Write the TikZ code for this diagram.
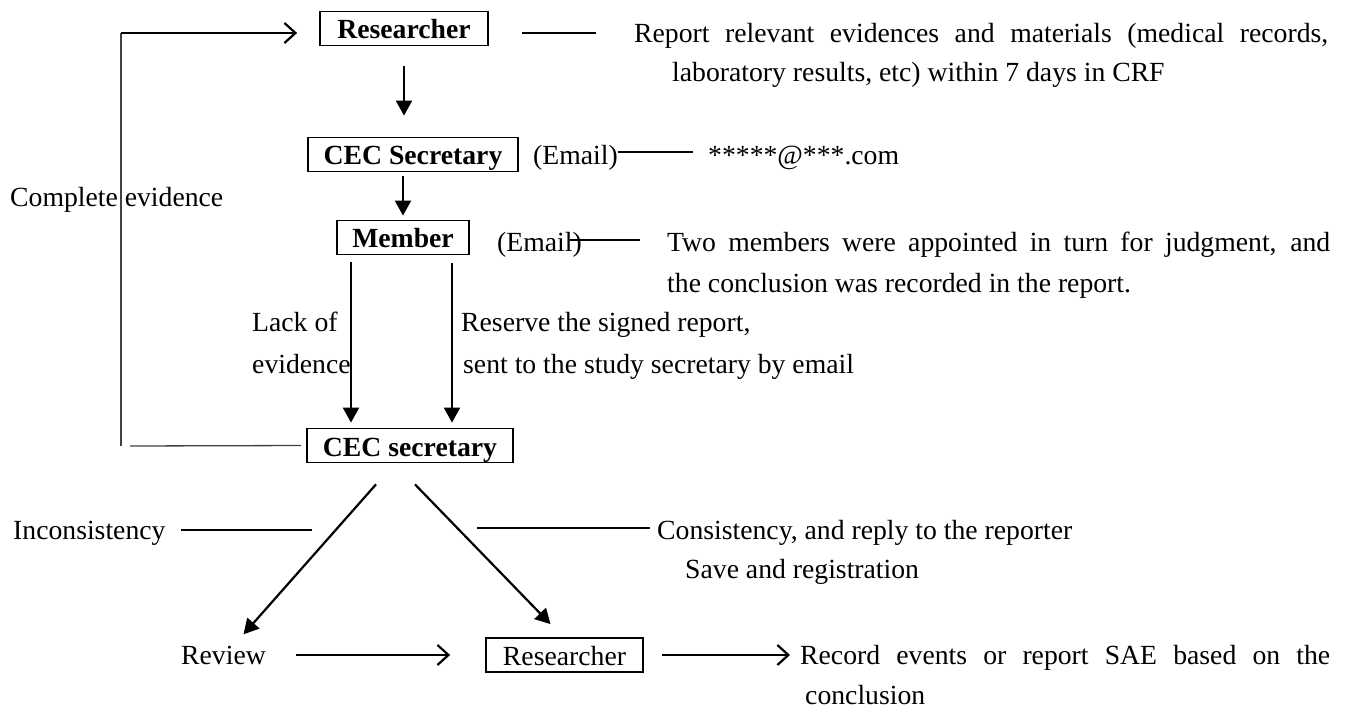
\documentclass[tikz,border=0pt]{standalone}
\usepackage{fontspec}
\setmainfont{Liberation Serif}
\usetikzlibrary{arrows.meta,calc}
\begin{document}
\begin{tikzpicture}[x=1pt,y=-1pt,
  every node/.style={font=\fontsize{27.7}{40}\selectfont, inner sep=0pt},
  box/.style={draw, line width=1.8pt, minimum height=34pt, text height=25pt, text depth=4pt},
  bold/.style={font=\fontsize{27.7}{40}\selectfont\bfseries},
  lbl/.style={anchor=west, text height=19pt, text depth=0pt},
  arr/.style={line width=2.2pt, -{Triangle[length=15pt,width=16pt]}},
  oarr/.style={line width=2.2pt, -{Straight Barb[length=11pt,width=20pt,line width=2.2pt]}},
  tie/.style={line width=1.5pt},
  loopline/.style={line width=1.3pt, black!75}]
\useasboundingbox (0,0) rectangle (1349,711);

% boxed steps
\node[box, bold, minimum width=168pt] (R1) at (404,28.5) {Researcher};
\node[box, bold, minimum width=210pt] (S1) at (413,154.5) {CEC Secretary};
\node[box, bold, minimum width=132pt] (M) at (403,237.5) {Member};
\node[box, bold, minimum width=206pt] (S2) at (410,445.5) {CEC secretary};
\node[box, minimum width=157pt] (R2) at (564.5,655) {Researcher};

% descriptions
\node[lbl] (rep1) at (634,33) {\makebox[694pt][s]{Report relevant evidences and materials (medical records,}};
\node[lbl] (rep2) at (672,72) {laboratory results, etc) within 7 days in CRF};
\node[lbl] (em1) at (533,155) {(Email)};
\node[lbl] (mail) at (708,155) {*****@***.com};
\node[lbl] (em2) at (497,242) {(Email)};
\node[lbl] (two1) at (667,242) {\makebox[663pt][s]{Two members were appointed in turn for judgment, and}};
\node[lbl] (two2) at (667,283) {the conclusion was recorded in the report.};
\node[lbl] (comp) at (10,197) {Complete evidence};
\node[lbl] (lack1) at (252,322) {Lack of};
\node[lbl] (lack2) at (252,364) {evidence};
\node[lbl] (res1) at (461,322) {Reserve the signed report,};
\node[lbl] (res2) at (463,364) {sent to the study secretary by email};
\node[lbl] (inc) at (13,530) {Inconsistency};
\node[lbl] (con1) at (657,530) {Consistency, and reply to the reporter};
\node[lbl] (con2) at (685,569) {Save and registration};
\node[lbl] (rev) at (181,655) {Review};
\node[lbl] (rec1) at (800,655) {\makebox[530pt][s]{Record events or report SAE based on the}};
\node[lbl] (rec2) at (805,695) {conclusion};

% leader lines to the descriptions
\draw[tie] ($(rep1.west)+(-112,0)$) -- ($(rep1.west)+(-38,0)$);
\draw[tie] ($(em1.east)+(0,-3)$) -- ($(mail.west)+(-15,-3)$);
\draw[tie] ($(em2.east)+(-12,-2)$) -- ($(two1.west)+(-27,-2)$);
\draw[tie] ($(inc.east)+(15,0)$) -- ($(inc.east)+(146,0)$);
\draw[tie] ($(con1.west)+(-180,-2)$) -- ($(con1.west)+(-7,-2)$);

% main flow
\draw[arr, shorten <=20pt, shorten >=21pt] (R1.south) -- (R1.south |- S1.north);
\draw[arr, shorten <=4pt, shorten >=4pt] (M.north |- S1.south) -- (M.north);
\draw[arr, shorten <=7pt, shorten >=5pt] ([xshift=-52pt]M.south) -- ([xshift=-52pt]M.south |- S2.north);
\draw[arr, shorten <=8pt, shorten >=5pt] ([xshift=49pt]M.south) -- ([xshift=49pt]M.south |- S2.north);
\draw[arr] ($(S2.south)+(-34,21)$) -- ($(rev.north)+(20,-11)$);
\draw[arr] ($(S2.south)+(5,21)$) -- ($(R2.north)+(-14,-13)$);
\draw[oarr, shorten <=30pt, shorten >=35pt] (rev.east) -- (R2.west);
\draw[oarr, shorten <=18pt, shorten >=10pt] (R2.east) -- (R2.east -| rec1.west);

% return loop for complete evidence
\coordinate (cTop) at (121,33);
\coordinate (cBot) at (121,446);
\coordinate (cGap) at (130,446);
\draw[loopline] (cBot) -- (cTop);
\draw[oarr, shorten >=22pt] (cTop) -- (R1.west |- cTop);
\draw[loopline, shorten <=5pt] (S2.west) -- (cGap);
\end{tikzpicture}
\end{document}
